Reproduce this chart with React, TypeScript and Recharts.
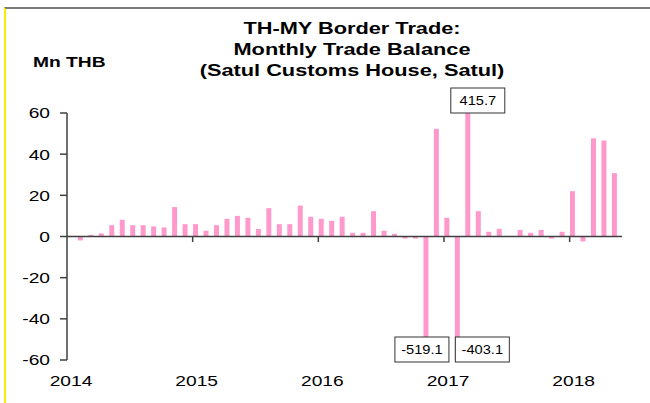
import { BarChart, Bar, XAxis, YAxis, ReferenceLine, LabelList } from "recharts";

// Satul customs house, monthly trade balance (Mn THB), Jan 2014 - May 2018
const yearTicks = [2014, 2015, 2016, 2017, 2018];
const yTicks = [-60, -40, -20, 0, 20, 40, 60];
const balance = [
  0.3, -1.9, 0.8, 1.5, 5.5, 8.1, 5.5, 5.5, 4.9, 4.4, 14.3, 6.0,
  6.0, 2.8, 5.5, 8.6, 10.0, 9.1, 3.7, 13.8, 6.0, 6.0, 15.0, 9.6,
  8.6, 7.6, 9.6, 1.8, 1.8, 12.3, 2.8, 1.3, -1.0, -1.0, -519.1, 52.3,
  9.1, -403.1, 415.7, 12.3, 2.3, 3.7, 0.2, 3.2, 1.8, 3.2, -1.0, 2.3,
  22.0, -2.4, 47.7, 46.6, 30.8,
];

const FONT = '"Liberation Sans", Arial, sans-serif';
const STRETCH = 1.28; // the source image is stretched horizontally
const PLOT_TOP = 113;
const PLOT_BOTTOM = 360;
const AXIS = "#404040";

// month index (0 = Jan 2014); bars sit just right of the month start
const data = balance.map((v, i) => ({ t: i + 0.25, v }));

const YTick = ({ x, y, payload }: any) => (
  <text
    transform={`translate(${x},${y}) scale(${STRETCH},1)`}
    dy="0.36em"
    textAnchor="end"
    fontFamily={FONT}
    fontSize={15}
    fill="#000"
  >
    {payload.value}
  </text>
);

const XTick = ({ x, y, payload }: any) => (
  <text
    transform={`translate(${x + 4},${y + 26}) scale(${STRETCH},1)`}
    textAnchor="middle"
    fontFamily={FONT}
    fontSize={15}
    fill="#000"
  >
    {yearTicks[payload.value / 12]}
  </text>
);

// boxes for the bars that run off the scale
const boxShift: Record<number, number> = { 34: -4, 37: 25, 38: 10 };

const OverflowLabel = (props: any) => {
  const { value, index } = props;
  if (Math.abs(value) <= 60) return null;
  const vb = props.viewBox ?? props;
  const cx = (vb.x ?? props.x) + (vb.width ?? props.width) / 2 + (boxShift[index] ?? 0);
  const w = 54;
  const h = 25;
  const top = value > 0 ? PLOT_TOP - h : PLOT_BOTTOM - 23;
  return (
    <g>
      <rect x={cx - w / 2} y={top} width={w} height={h} fill="#fff" stroke="#333" strokeWidth={1} />
      <text
        transform={`translate(${cx},${top + h / 2}) scale(1.22,1)`}
        dy="0.36em"
        textAnchor="middle"
        fontFamily={FONT}
        fontSize={12}
        fill="#000"
      >
        {value.toFixed(1)}
      </text>
    </g>
  );
};

export default function App() {
  return (
    <div style={{ position: "absolute", left: 0, top: 0, width: 650, height: 403, background: "#fff", overflow: "hidden" }}>
      <div
        style={{
          position: "absolute",
          left: 4,
          top: 7,
          width: 646,
          height: 396,
          borderTop: "2px solid #7a7a7a",
          borderLeft: "2px solid #f2f200",
          boxSizing: "border-box",
        }}
      />
      <div
        style={{
          position: "absolute",
          left: 352,
          top: 18,
          transform: `translateX(-50%) scaleX(${STRETCH})`,
          whiteSpace: "nowrap",
          textAlign: "center",
          fontFamily: FONT,
          fontWeight: "bold",
          fontSize: 17,
          lineHeight: "21px",
          color: "#000",
        }}
      >
        TH-MY Border Trade:
        <br />
        Monthly Trade Balance
        <br />
        (Satul Customs House, Satul)
      </div>
      <div
        style={{
          position: "absolute",
          left: 33,
          top: 53,
          transform: `scaleX(${STRETCH})`,
          transformOrigin: "left center",
          whiteSpace: "nowrap",
          fontFamily: FONT,
          fontWeight: "bold",
          fontSize: 15,
          lineHeight: "18px",
          color: "#000",
        }}
      >
        Mn THB
      </div>
      <div style={{ position: "absolute", left: 0, top: 0 }}>
        <BarChart
          width={650}
          height={403}
          data={data}
          margin={{ top: PLOT_TOP, right: 28, bottom: 13, left: 7 }}
        >
          <XAxis
            dataKey="t"
            type="number"
            domain={[0, 53]}
            ticks={[0, 12, 24, 36, 48]}
            axisLine={false}
            tickLine={false}
            tickSize={0}
            tickMargin={0}
            height={30}
            tick={<XTick />}
            interval={0}
          />
          <YAxis
            type="number"
            domain={[-60, 60]}
            ticks={yTicks}
            allowDataOverflow
            width={60}
            tickSize={7}
            tickMargin={10}
            axisLine={{ stroke: AXIS, strokeWidth: 1.5 }}
            tickLine={{ stroke: AXIS, strokeWidth: 1.5 }}
            tick={<YTick />}
            interval={0}
          />
          <ReferenceLine y={0} stroke={AXIS} strokeWidth={1.5} />
          {[12, 24, 36, 48].map((m) => (
            <ReferenceLine
              key={m}
              segment={[
                { x: m, y: 0 },
                { x: m, y: -2.7 },
              ]}
              stroke={AXIS}
              strokeWidth={1.5}
            />
          ))}
          <Bar dataKey="v" fill="#FF99CC" barSize={5} isAnimationActive={false}>
            <LabelList dataKey="v" content={<OverflowLabel />} />
          </Bar>
        </BarChart>
      </div>
    </div>
  );
}
